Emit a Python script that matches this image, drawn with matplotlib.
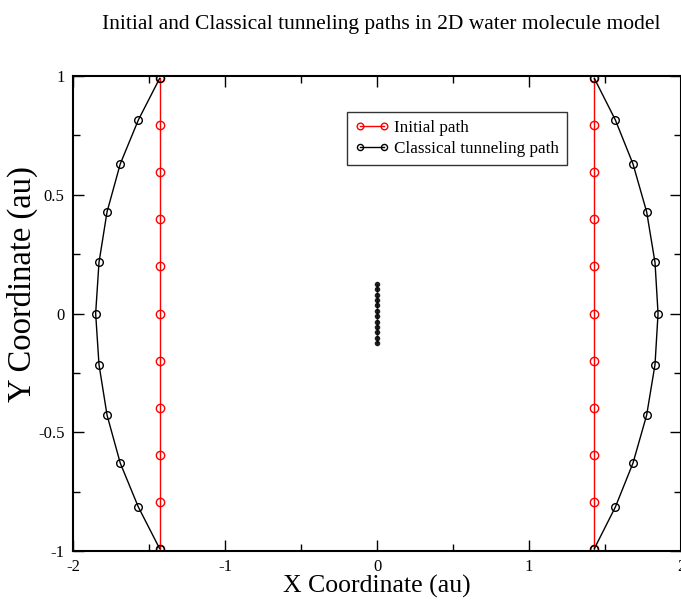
import matplotlib
matplotlib.use("Agg")
import matplotlib.pyplot as plt
from matplotlib.ticker import MultipleLocator, FuncFormatter

# Initial path (two vertical lines)
init_y = [-0.99, -0.792, -0.594, -0.396, -0.198, 0.0, 0.198, 0.396, 0.594, 0.792, 0.99]
init_left_x = [-1.43] * 11
init_right_x = [1.43] * 11

# Classical tunneling path (arcs)
class_y = [-0.99, -0.815, -0.63, -0.428, -0.215, 0.0, 0.215, 0.428, 0.63, 0.815, 0.99]
class_left_x = [-1.43, -1.570, -1.689, -1.776, -1.829, -1.851, -1.829, -1.776, -1.689, -1.570, -1.43]
class_right_x = [1.43, 1.568, 1.684, 1.774, 1.829, 1.849, 1.829, 1.774, 1.684, 1.568, 1.43]

# Small central segment
center_x = [0.0] * 12
center_y = [-0.124, -0.1015, -0.079, -0.0565, -0.034, -0.011, 0.011, 0.034, 0.0565, 0.079, 0.1015, 0.124]

plt.rcParams['font.family'] = ['Liberation Serif', 'DejaVu Serif']
plt.rcParams['axes.unicode_minus'] = False

W, H = 681, 602
fig = plt.figure(figsize=(W/100, H/100), dpi=100)
ax = fig.add_axes([73/W, 1-551/H, 1-73/W, (551-76)/H])

ax.plot(init_left_x, init_y, color='red', lw=1, marker='o', ms=6, mfc='none', mec='red', label='Initial path')
ax.plot(init_right_x, init_y, color='red', lw=1, marker='o', ms=6, mfc='none', mec='red')
ax.plot(class_left_x, class_y, color='black', lw=1, marker='o', ms=5.5, mfc='none', mec='black', label='Classical tunneling path')
ax.plot(class_right_x, class_y, color='black', lw=1, marker='o', ms=5.5, mfc='none', mec='black')
ax.plot(center_x, center_y, color='black', lw=1, marker='o', ms=3, mfc='black', mec='black', alpha=0.8)

ax.set_xlim(-2, 2)
ax.set_ylim(-1, 1)
fmt = FuncFormatter(lambda v, p: '%g' % v)
ax.xaxis.set_major_locator(MultipleLocator(1))
ax.xaxis.set_minor_locator(MultipleLocator(0.5))
ax.yaxis.set_major_locator(MultipleLocator(0.5))
ax.yaxis.set_minor_locator(MultipleLocator(0.25))
ax.xaxis.set_major_formatter(fmt)
ax.yaxis.set_major_formatter(fmt)
ax.tick_params(which='both', direction='in', top=True, right=True, labelsize=12, width=1)
ax.tick_params(which='major', length=8)
ax.tick_params(which='minor', length=5)
ax.tick_params(axis='x', pad=6)
ax.tick_params(axis='y', pad=6)
for s in ax.spines.values():
    s.set_linewidth(1.5)

ax.set_xlabel('X Coordinate (au)', fontsize=18.5, labelpad=0)
fig.text(22/W, 1-284/H, 'Y Coordinate (au)', fontsize=23.5, rotation=90, ha='center', va='center')
fig.suptitle('Initial and Classical tunneling paths in 2D water molecule model', fontsize=15.5, x=0.56, y=0.975)

leg = ax.legend(loc='upper left', bbox_to_anchor=((347-73)/608, 1-(112-76)/475), fontsize=12.3,
                frameon=True, fancybox=False, edgecolor='black', handlelength=2.0, numpoints=2,
                borderpad=0.45, labelspacing=0.3, handletextpad=0.3, borderaxespad=0, markerscale=0.8)
leg.get_frame().set_linewidth(1)

fig.savefig('out.png', dpi=100)
